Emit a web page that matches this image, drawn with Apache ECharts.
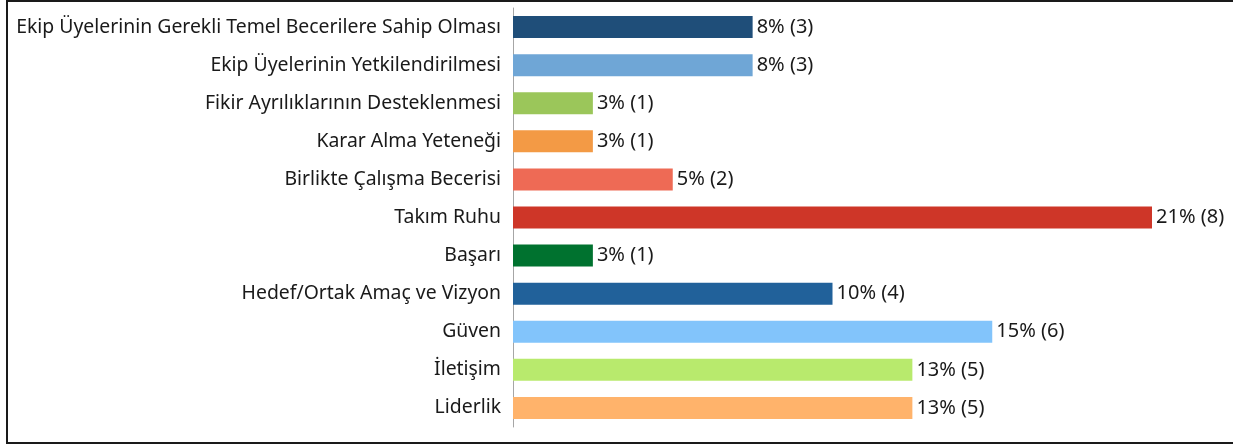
<!DOCTYPE html>
<html>
<head>
<meta charset="utf-8">
<script src="https://cdn.jsdelivr.net/npm/echarts@6/dist/echarts.min.js"></script>
<style>
    html, body { margin: 0; padding: 0; background: #fff; }
    #chart { position: absolute; left: 0; top: 0; width: 1233px; height: 444px; }
    .frame {
        position: absolute; left: 6px; top: 0; width: 1240px; height: 440px;
        border-top: 2px solid #1a1a1a; border-left: 2px solid #1a1a1a; border-bottom: 2px solid #1a1a1a;
        pointer-events: none;
    }
</style>
</head>
<body>
<div id="chart"></div>
<div class="frame"></div>
<script>
    // kategoriler (yukaridan asagi)
    const categories = [
        'Ekip Üyelerinin Gerekli Temel Becerilere Sahip Olması',
        'Ekip Üyelerinin Yetkilendirilmesi',
        'Fikir Ayrılıklarının Desteklenmesi',
        'Karar Alma Yeteneği',
        'Birlikte Çalışma Becerisi',
        'Takım Ruhu',
        'Başarı',
        'Hedef/Ortak Amaç ve Vizyon',
        'Güven',
        'İletişim',
        'Liderlik'
    ];
    const counts = [3, 3, 1, 1, 2, 8, 1, 4, 6, 5, 5];
    const percents = [8, 8, 3, 3, 5, 21, 3, 10, 15, 13, 13];
    const barColors = ['#1f4e79', '#6fa6d6', '#9bc65a', '#f39a45', '#ee6a55', '#ce3628',
                       '#00722f', '#21619a', '#82c4fb', '#b8ea6d', '#ffb36b'];

    const myChart = echarts.init(document.getElementById('chart'));
    const fontFamily = '"Noto Sans", "Open Sans", sans-serif';

    const option = {
        animation: false,
        grid: {
            left: 513,
            right: 81,
            top: 8,
            bottom: 17,
            containLabel: false
        },
        xAxis: {
            type: 'value',
            min: 0,
            max: 8,
            show: false
        },
        yAxis: {
            type: 'category',
            inverse: true,
            data: categories,
            axisLine: { lineStyle: { color: '#a6a6a6', width: 1 } },
            axisTick: { show: false },
            axisLabel: {
                color: '#1a1a1a',
                fontSize: 19.4,
                fontFamily: fontFamily,
                margin: 12
            }
        },
        series: [
            {
                type: 'bar',
                barWidth: 22,
                data: counts.map((c, i) => ({
                    value: c,
                    itemStyle: { color: barColors[i] }
                })),
                label: {
                    show: true,
                    position: 'right',
                    distance: 4,
                    color: '#1a1a1a',
                    fontSize: 20,
                    fontFamily: fontFamily,
                    formatter: p => percents[p.dataIndex] + '% (' + counts[p.dataIndex] + ')'
                }
            }
        ]
    };
    myChart.setOption(option);
</script>
</body>
</html>
